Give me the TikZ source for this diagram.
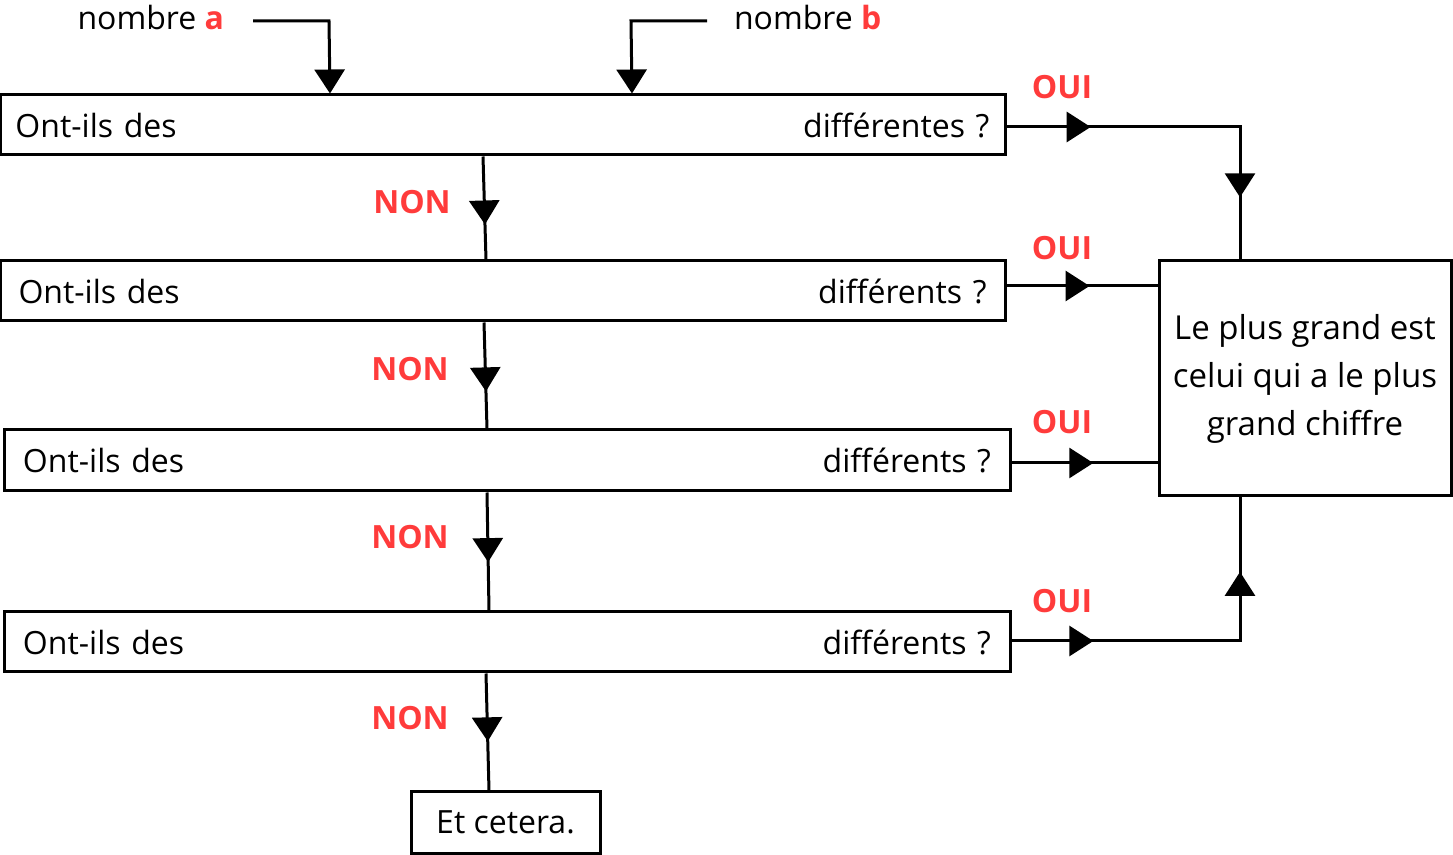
\documentclass[tikz,border=0pt]{standalone}
\usepackage{fontspec}
\setmainfont{Open Sans}
\usetikzlibrary{arrows.meta,decorations.markings}
\definecolor{ouired}{HTML}{FF3B3B}
\tikzset{
  box/.style={draw,line width=1.5pt,rectangle,inner sep=0pt,font=\fontsize{16}{19}\selectfont},
  lbl/.style={text=ouired,font=\fontsize{16}{19}\selectfont\bfseries},
  plain/.style={font=\fontsize{16}{19}\selectfont},
  conn/.style={line width=1.5pt},
  tipa/.style={-{Triangle[length=12pt,width=15pt]}},
  mark1/.style={postaction={decorate},decoration={markings,
     mark=at position #1 with {\arrow{Triangle[length=12pt,width=15pt]}}}},
  mark2/.style 2 args={postaction={decorate},decoration={markings,
     mark=at position #1 with {\arrow{Triangle[length=12pt,width=15pt]}},
     mark=at position #2 with {\arrow{Triangle[length=12pt,width=15pt]}}}},
}
\begin{document}
\begin{tikzpicture}[x=0.5pt,y=-0.5pt]
\useasboundingbox (0,0) rectangle (1453,855);
% decision boxes
\node[box,minimum width=502.5pt,minimum height=30pt,text width=487pt,align=left] (b1) at (502.5,125) {Ont-ils des\hfill différentes ?};
\node[box,minimum width=502.5pt,minimum height=30pt,text width=484pt,align=left] (b2) at (502.5,291) {Ont-ils des\hfill différents ?};
\node[box,minimum width=503pt,minimum height=30.5pt,text width=484pt,align=left] (b3) at (507,460.5) {Ont-ils des\hfill différents ?};
\node[box,minimum width=503pt,minimum height=30pt,text width=484pt,align=left] (b4) at (507,642) {Ont-ils des\hfill différents ?};
\node[box,minimum width=94.5pt,minimum height=30.5pt] (et) at (505.5,822.5) {Et cetera.};
\node[box,minimum width=146pt,minimum height=117.5pt,align=center,font=\fontsize{16.5}{24}\selectfont] (R) at (1305,378.5) {Le plus grand est\\celui qui a le plus\\grand chiffre};
% inputs
\node[plain,anchor=east] (na) at (231,18) {nombre \textcolor{ouired}{\bfseries a}};
\node[plain,anchor=west] (nb) at (727,18) {nombre \textcolor{ouired}{\bfseries b}};
\coordinate (sa) at (253,21);
\coordinate (sb) at (707,21);
\draw[conn,tipa] (sa) -- (329,21) -- (b1.north -| 330,0);
\draw[conn,tipa] (sb) -- (631,21) -- (b1.north -| 632,0);
% NON
\draw[conn,mark1=0.66] (b1.south -| 483,0) -- (b2.north -| 486,0);
\draw[conn,mark1=0.65] (b2.south -| 484,0) -- (b3.north -| 487,0);
\draw[conn,mark1=0.59] (b3.south -| 487,0) -- (b4.north -| 489,0);
\draw[conn,mark1=0.58] (b4.south -| 486,0) -- (et.north -| 489,0);
\node[lbl] (n1) at (412,202) {NON};
\node[lbl] (n2) at (410,369) {NON};
\node[lbl] (n3) at (410,537) {NON};
\node[lbl] (n4) at (410,718) {NON};
% OUI
\draw[conn,mark2={0.23}{0.83}] (b1.east |- 0,127) -- (1240,127) -- (R.north -| 1240,0);
\draw[conn,mark1=0.55] (b2.east |- 0,286) -- (R.west |- 0,286);
\draw[conn,mark1=0.56] (b3.east |- 0,463) -- (R.west |- 0,463);
\draw[conn,mark2={0.22}{0.8}] (b4.east |- 0,641) -- (1240,641) -- (R.south -| 1240,0);
\node[lbl] (o1) at (1062,87) {OUI};
\node[lbl] (o2) at (1062,248) {OUI};
\node[lbl] (o3) at (1062,422) {OUI};
\node[lbl] (o4) at (1062,601) {OUI};
\end{tikzpicture}
\end{document}
